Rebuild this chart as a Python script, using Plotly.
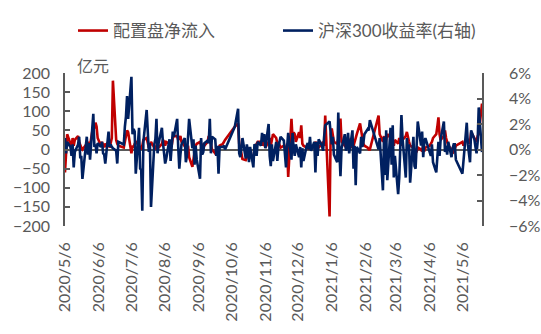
import pandas as pd
import plotly.graph_objects as go

# Trading calendar: weekdays from 2020-05-06 to 2021-05-24, minus exchange holidays
start_date = "2020-05-06"
end_date = "2021-05-24"
holidays = [
    "2020-06-25", "2020-06-26",
    "2020-10-01", "2020-10-02", "2020-10-05", "2020-10-06", "2020-10-07", "2020-10-08",
    "2021-01-01",
    "2021-02-11", "2021-02-12", "2021-02-15", "2021-02-16", "2021-02-17",
    "2021-04-05",
    "2021-05-03", "2021-05-04", "2021-05-05",
]

# 配置盘净流入 (亿元), one row per month
flow = [
    -60, 10, 40, 15, 5, 30, 10, 25, 35, 20, 10, 5, 0, 10, 15, 5, 20, 10,                     # 2020-05
    65, 55, 70, 60, 30, 10, 20, 5, 15, 10, 20, 5, 15, 30, 180, 25, 15, 10, 5, 20,             # 2020-06
    40, 50, 45, -10, 10, 5, 15, 20, 10, 5, 0, 10, 25, 30, 15, 5, 10, 20, 5, 0, 10, 15, 5,     # 2020-07
    15, 25, 20, 10, 20, 15, 5, 10, 30, 35, 35, 25, 30, 35, 20, 10, 5, 0, 10, -20, -45,        # 2020-08
    -25, 0, 10, 15, 20, 10, 15, 5, 10, 20, 35, 30, 10, 0, -10, -15, -5, 0, 10, 15, 20, 25,    # 2020-09
    60, 68, 15, 5, -10, -25, -28, -20, -5, 5, -15, -25, 0, 10, 15, 20,                        # 2020-10
    20, 10, 25, 15, 5, 20, 30, 10, 25, 40, 30, 15, 20, 10, 5, 10, 5, 0, 15, -72, 80,          # 2020-11
    30, 45, 40, 20, 45, 30, 63, 15, 10, 5, 15, 0, 10, 5, 10, 20, 15, 10, 5, 15, 20, 10, 89,   # 2020-12
    -175, 40, 55, 30, 20, 15, 30, 40, 81, 20, 10, 15, 25, 30, 20, 5, 10, 25, 30, 40,          # 2021-01
    68, 50, 30, 15, 10, 5, 0, 0, 89, 40, 20, 35, 10, 25, 40,                                  # 2021-02
    30, 40, 20, 10, 25, 15, 30, 20, 10, 25, 35, 46, 30, 20, 10, 5, 0, -10, -5, 5, 0, -5, 10,  # 2021-03
    -5, 5, 10, 15, 20, 30, 40, 60, 84, 40, 25, 35, 50, 30, 20, 10, 0, -10, -5, 5, 10,         # 2021-04
    20, 10, 30, 25, 15, 20, 45, 30, 25, 20, 35, 40, 120,                                      # 2021-05
]

# 沪深300 daily return (%), one row per month
csi300_ret = [
    0.9, -0.3, 0.6, 0.2, -0.5, 0.4, -1.4, -0.2, 0.4, 1.0, -0.6, -0.6, -2.3, 0.3, 1.0, -0.4, 0.5, -0.8,                 # 2020-05
    2.8, 0.2, 0.4, -0.3, 0.5, 0.2, 0.6, -0.3, -0.4, -1.1, 1.4, 0.2, 0.4, 0.2, 0.1, -0.1, -1.1, 0.6, 0.4, 1.8,          # 2020-06
    2.6, 4.2, 2.4, 5.7, 1.2, 1.6, 1.4, -1.9, 1.7, -1.5, -1.6, -4.8, 0.6, 3.1, 0.8, -0.2, 0.5, -4.5, 0.4, 0.8, 2.4, -0.3, 0.5,  # 2020-07
    1.7, 0.5, -0.3, -1.1, -0.7, 0.8, -0.9, 0.6, 1.4, 1.0, 2.4, 0.2, -1.5, -0.4, 0.4, 0.9, -1.0, -0.5, 1.0, 2.4, 0.1,   # 2020-08
    0.8, -1.2, 0.3, -0.8, -2.3, 0.9, -0.4, -0.2, 0.5, 0.7, 0.5, 2.4, -0.3, 1.0, 0.8, -0.5, 0.3, -1.9, 0.2, 0.2, 0.3, 0.0,  # 2020-09
    1.8, 3.2, -0.3, -0.6, 0.3, 0.9, -0.7, 0.4, -0.1, -1.0, 0.2, -1.4, 0.4, 0.3, -0.5, 0.6,                             # 2020-10
    0.3, 1.3, 0.6, 1.2, 0.1, 2.0, -0.5, -1.3, 0.4, -0.9, 0.6, -0.9, 0.2, 0.5, 1.0, 0.7, -0.4, -1.4, 0.2, 1.3, -0.8,    # 2020-11
    1.3, 0.1, -0.5, 0.4, -0.6, 0.2, -1.4, 0.1, -0.9, 0.3, 0.5, 0.0, 1.0, -0.1, 0.6, -1.8, 0.6, -0.5, 0.8, 0.3, -0.1, 1.0, 1.9,  # 2020-12
    2.2, 1.3, 0.4, 1.0, -0.4, -1.0, 2.9, -0.1, -2.1, 0.1, 1.2, -0.1, 0.3, 1.3, -0.3, 1.5, -1.5, 0.3, -2.8, 0.2,        # 2021-01
    -0.3, 1.0, 0.2, 0.5, 1.2, 1.6, 1.5, 2.3, 0.0, 0.9, -3.2, 1.0, -2.0, 1.5, -2.4,                                     # 2021-02
    1.7, -1.2, 1.9, -2.2, -0.5, -3.5, -2.2, 0.8, 2.7, 0.9, -2.2, 0.9, -0.1, 0.4, -2.6, 1.0, -1.3, -1.5, -0.1, 2.2, 0.3, 1.4, -0.6,  # 2021-03
    0.6, 0.9, -0.1, -0.5, 0.4, -1.0, -1.8, -0.2, 0.6, -0.5, 0.8, 2.2, -0.2, 0.3, -0.4, 0.6, -0.6, 0.1, 0.4, 0.4, -0.8,  # 2021-04
    -1.9, -0.8, 2.1, 0.4, -0.2, -1.0, 1.5, 0.8, 0.2, -0.3, 0.6, 3.3, -0.2,                                             # 2021-05
]

dates = pd.bdate_range(start_date, end_date)
dates = dates[~dates.isin(pd.to_datetime(holidays))]
assert len(dates) == len(flow) == len(csi300_ret), (len(dates), len(flow), len(csi300_ret))

RED = "#C00000"
NAVY = "#002060"
GREY = "#595959"
FONT = "Lato, Noto Sans CJK SC, sans-serif"

fig = go.Figure()
fig.add_trace(go.Scatter(
    x=dates, y=flow, name="配置盘净流入", mode="lines",
    line=dict(color=RED, width=2.6), yaxis="y",
))
fig.add_trace(go.Scatter(
    x=dates, y=csi300_ret, name="沪深300收益率(右轴)", mode="lines",
    line=dict(color=NAVY, width=2.6), yaxis="y2",
))

axis_common = dict(
    showgrid=False, showline=True, linecolor=GREY, linewidth=1.5,
    ticks="inside", ticklen=5, tickcolor=GREY, tickwidth=1.5,
    tickfont=dict(family=FONT, size=16, color=GREY),
)

fig.update_layout(
    width=541, height=334,
    margin=dict(l=65, r=59, t=73, b=108, autoexpand=False),
    paper_bgcolor="white", plot_bgcolor="white",
    font=dict(family=FONT, size=16, color=GREY),
    showlegend=True,
    legend=dict(
        orientation="h", xref="container", yref="container",
        x=73 / 541, xanchor="left", y=1 - 13 / 334, yanchor="top",
        font=dict(family=FONT, size=17, color=GREY),
        entrywidth=160, entrywidthmode="pixels",
        bgcolor="rgba(0,0,0,0)",
    ),
    xaxis=dict(
        type="date", range=[start_date, end_date],
        showgrid=False, showline=False, zeroline=False, ticks="",
        tick0=start_date, dtick="M1", tickformat="%Y/%-m/%-d",
        tickangle=-90, ticklabelstandoff=12,
        tickfont=dict(family=FONT, size=16, color=GREY),
    ),
    yaxis=dict(
        range=[-200, 200], dtick=50, zeroline=True, zerolinecolor=GREY, zerolinewidth=1.5,
        ticklabelstandoff=10, **axis_common,
    ),
    yaxis2=dict(
        range=[-6, 6], dtick=2, ticksuffix="%", overlaying="y", side="right",
        zeroline=False, ticklabelstandoff=22, **axis_common,
    ),
    annotations=[dict(
        text="亿元", xref="paper", yref="paper", x=0.024, y=1.05,
        xanchor="left", yanchor="middle", showarrow=False,
        font=dict(family=FONT, size=16, color=GREY),
    )],
)

fig.write_html("out.html")
